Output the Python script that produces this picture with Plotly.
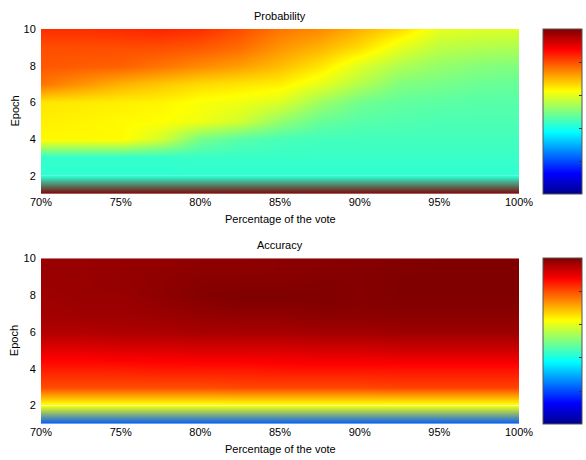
import plotly.graph_objects as go

# ---- data -------------------------------------------------------------
vote_pct = [70, 72.5, 75, 77.5, 80, 82.5, 85, 87.5, 90, 92.5, 95, 97.5, 100]
epochs = [1, 2, 3, 4, 5, 6, 7, 8, 9, 10]

# rows: epoch 1 .. 10, columns: vote_pct
probability = [
    [1.0] * 13,
    [0.42] * 13,
    [0.425, 0.425, 0.425, 0.425, 0.43, 0.43, 0.43, 0.43, 0.43, 0.43, 0.43, 0.43, 0.43],
    [0.63, 0.63, 0.63, 0.58, 0.49, 0.46, 0.445, 0.44, 0.44, 0.44, 0.44, 0.44, 0.44],
    [0.64, 0.635, 0.63, 0.625, 0.61, 0.58, 0.52, 0.475, 0.46, 0.455, 0.45, 0.45, 0.45],
    [0.65, 0.645, 0.64, 0.635, 0.62, 0.61, 0.59, 0.53, 0.485, 0.47, 0.465, 0.46, 0.46],
    [0.76, 0.73, 0.70, 0.68, 0.66, 0.65, 0.64, 0.60, 0.55, 0.50, 0.49, 0.48, 0.475],
    [0.79, 0.785, 0.78, 0.76, 0.74, 0.72, 0.69, 0.65, 0.59, 0.545, 0.52, 0.505, 0.50],
    [0.80, 0.80, 0.80, 0.80, 0.79, 0.77, 0.73, 0.70, 0.66, 0.60, 0.56, 0.55, 0.545],
    [0.83, 0.83, 0.835, 0.84, 0.83, 0.80, 0.76, 0.74, 0.70, 0.66, 0.60, 0.59, 0.59],
]

accuracy = [
    [0.21] * 13,
    [0.61] * 13,
    [0.80, 0.80, 0.80, 0.80, 0.80, 0.805, 0.805, 0.805, 0.805, 0.81, 0.81, 0.81, 0.81],
    [0.85, 0.85, 0.85, 0.855, 0.855, 0.855, 0.86, 0.86, 0.86, 0.86, 0.86, 0.86, 0.86],
    [0.90, 0.90, 0.905, 0.905, 0.91, 0.91, 0.91, 0.915, 0.915, 0.92, 0.92, 0.92, 0.92],
    [0.95, 0.95, 0.955, 0.955, 0.96, 0.96, 0.96, 0.965, 0.965, 0.97, 0.97, 0.97, 0.97],
    [0.965, 0.97, 0.97, 0.975, 0.98, 0.985, 0.985, 0.99, 0.99, 0.99, 0.99, 0.99, 0.99],
    [0.97, 0.975, 0.975, 0.985, 0.995, 1.0, 1.0, 1.0, 0.995, 1.0, 1.0, 1.0, 1.0],
    [0.975, 0.975, 0.98, 0.985, 0.99, 0.99, 0.99, 0.995, 0.995, 1.0, 1.0, 1.0, 1.0],
    [0.975, 0.975, 0.98, 0.98, 0.985, 0.985, 0.99, 0.99, 0.995, 0.995, 1.0, 1.0, 1.0],
]

x_ticks = [70, 75, 80, 85, 90, 95, 100]
y_ticks = [2, 4, 6, 8, 10]
panel_titles = ["Probability", "Accuracy"]
x_title = "Percentage of the vote"
y_title = "Epoch"

# ---- colour map (classic jet) ----------------------------------------
JET = [(0.0, (0, 0, 143)), (0.125, (0, 0, 255)), (0.375, (0, 255, 255)),
       (0.625, (255, 255, 0)), (0.875, (255, 0, 0)), (1.0, (128, 0, 0))]
jet_scale = [[t, "rgb(%d,%d,%d)" % c] for t, c in JET]


def jet_rgb(t):
    t = min(max(t, 0.0), 1.0)
    for (t0, c0), (t1, c1) in zip(JET, JET[1:]):
        if t <= t1:
            f = (t - t0) / (t1 - t0)
            return "rgb(%d,%d,%d)" % tuple(round(a + (b - a) * f) for a, b in zip(c0, c1))
    return "rgb(128,0,0)"


# ---- page geometry (pixels) ---------------------------------------------
W, H = 586, 460
ML, MR, MT, MB = 41, 4, 29, 36
PW, PH = W - ML - MR, H - MT - MB
plot_right = 519
cb_left, cb_width = 543, 39
panels_px = [(29, 194), (258.3, 424)]          # top / bottom pixel rows of each panel

FONT = dict(family="Liberation Sans, Arial, sans-serif", size=11, color="black")

fig = go.Figure()
layout = dict(
    width=W, height=H,
    margin=dict(l=ML, r=MR, t=MT, b=MB, autoexpand=False),
    paper_bgcolor="white", plot_bgcolor="white",
    font=FONT, showlegend=False,
)
annotations = []
x_dom = [0, (plot_right - ML) / PW]
band_frac = (epochs[1] - epochs[0]) / (epochs[-1] - epochs[0])

for i, (grid, title) in enumerate(zip([probability, accuracy], panel_titles)):
    top_px, bot_px = panels_px[i]
    d0 = (H - MB - bot_px) / PH
    d1 = (H - MB - top_px) / PH
    dmid = d0 + (d1 - d0) * band_frac
    xa = "x" if i == 0 else "x2"
    ya_band = "y%d" % (2 * i + 1) if i else "y"
    ya_main = "y%d" % (2 * i + 2)

    # epochs 2..10 on the jet scale
    fig.add_trace(go.Heatmap(
        x=vote_pct, y=epochs[1:], z=grid[1:],
        colorscale=jet_scale, zmin=0, zmax=1, zsmooth="best",
        xaxis=xa, yaxis=ya_main, hoverinfo="skip",
        colorbar=dict(
            x=(cb_left - ML) / PW, xanchor="left", xpad=0, ypad=0,
            y=d1, yanchor="top", len=d1 - d0, lenmode="fraction",
            thickness=cb_width, outlinewidth=1, outlinecolor="#555",
            ticks="inside", ticklen=3, tickcolor="#333",
            tickvals=[0.2, 0.4, 0.6, 0.8], showticklabels=False,
        ),
    ))
    # epoch 1 -> 2 band, blended in RGB between the two end colours
    band = grid[:2]
    lo = min(min(r) for r in band)
    hi = max(max(r) for r in band)
    fig.add_trace(go.Heatmap(
        x=vote_pct, y=epochs[:2], z=band,
        colorscale=[[0, jet_rgb(lo)], [1, jet_rgb(hi)]], zmin=lo, zmax=hi,
        zsmooth="best", showscale=False,
        xaxis=xa, yaxis=ya_band, hoverinfo="skip",
    ))

    xkey = "xaxis" if i == 0 else "xaxis2"
    bkey = "yaxis" if i == 0 else "yaxis%d" % (2 * i + 1)
    mkey = "yaxis%d" % (2 * i + 2)
    layout[xkey] = dict(
        domain=x_dom, anchor=ya_band, range=[vote_pct[0], vote_pct[-1]],
        tickvals=x_ticks, ticktext=["%d%%" % v for v in x_ticks],
        ticks="",
        showgrid=False, zeroline=False, showline=False, tickfont=FONT,
    )
    layout[bkey] = dict(
        domain=[d0, dmid], anchor=xa, range=[epochs[0], epochs[1]],
        showticklabels=False, ticks="", showgrid=False, zeroline=False, showline=False,
    )
    layout[mkey] = dict(
        domain=[dmid, d1], anchor=xa, range=[epochs[1], epochs[-1]],
        tickvals=y_ticks, ticks="outside", ticklen=2, tickcolor="rgba(0,0,0,0)",
        showgrid=False, zeroline=False, showline=False, tickfont=FONT,
    )

    xc = x_dom[1] / 2
    annotations.append(dict(text=title, x=xc, y=d1, xref="paper", yref="paper",
                            xanchor="center", yanchor="bottom", yshift=5,
                            showarrow=False, font=FONT))
    annotations.append(dict(text=x_title, x=xc, y=d0, xref="paper", yref="paper",
                            xanchor="center", yanchor="middle", yshift=-25,
                            showarrow=False, font=FONT))
    annotations.append(dict(text=y_title, x=(14 - ML) / PW, y=(d0 + d1) / 2,
                            xref="paper", yref="paper", xanchor="center",
                            yanchor="middle", textangle=-90,
                            showarrow=False, font=FONT))

layout["annotations"] = annotations
fig.update_layout(**layout)
fig.write_html("out.html")
